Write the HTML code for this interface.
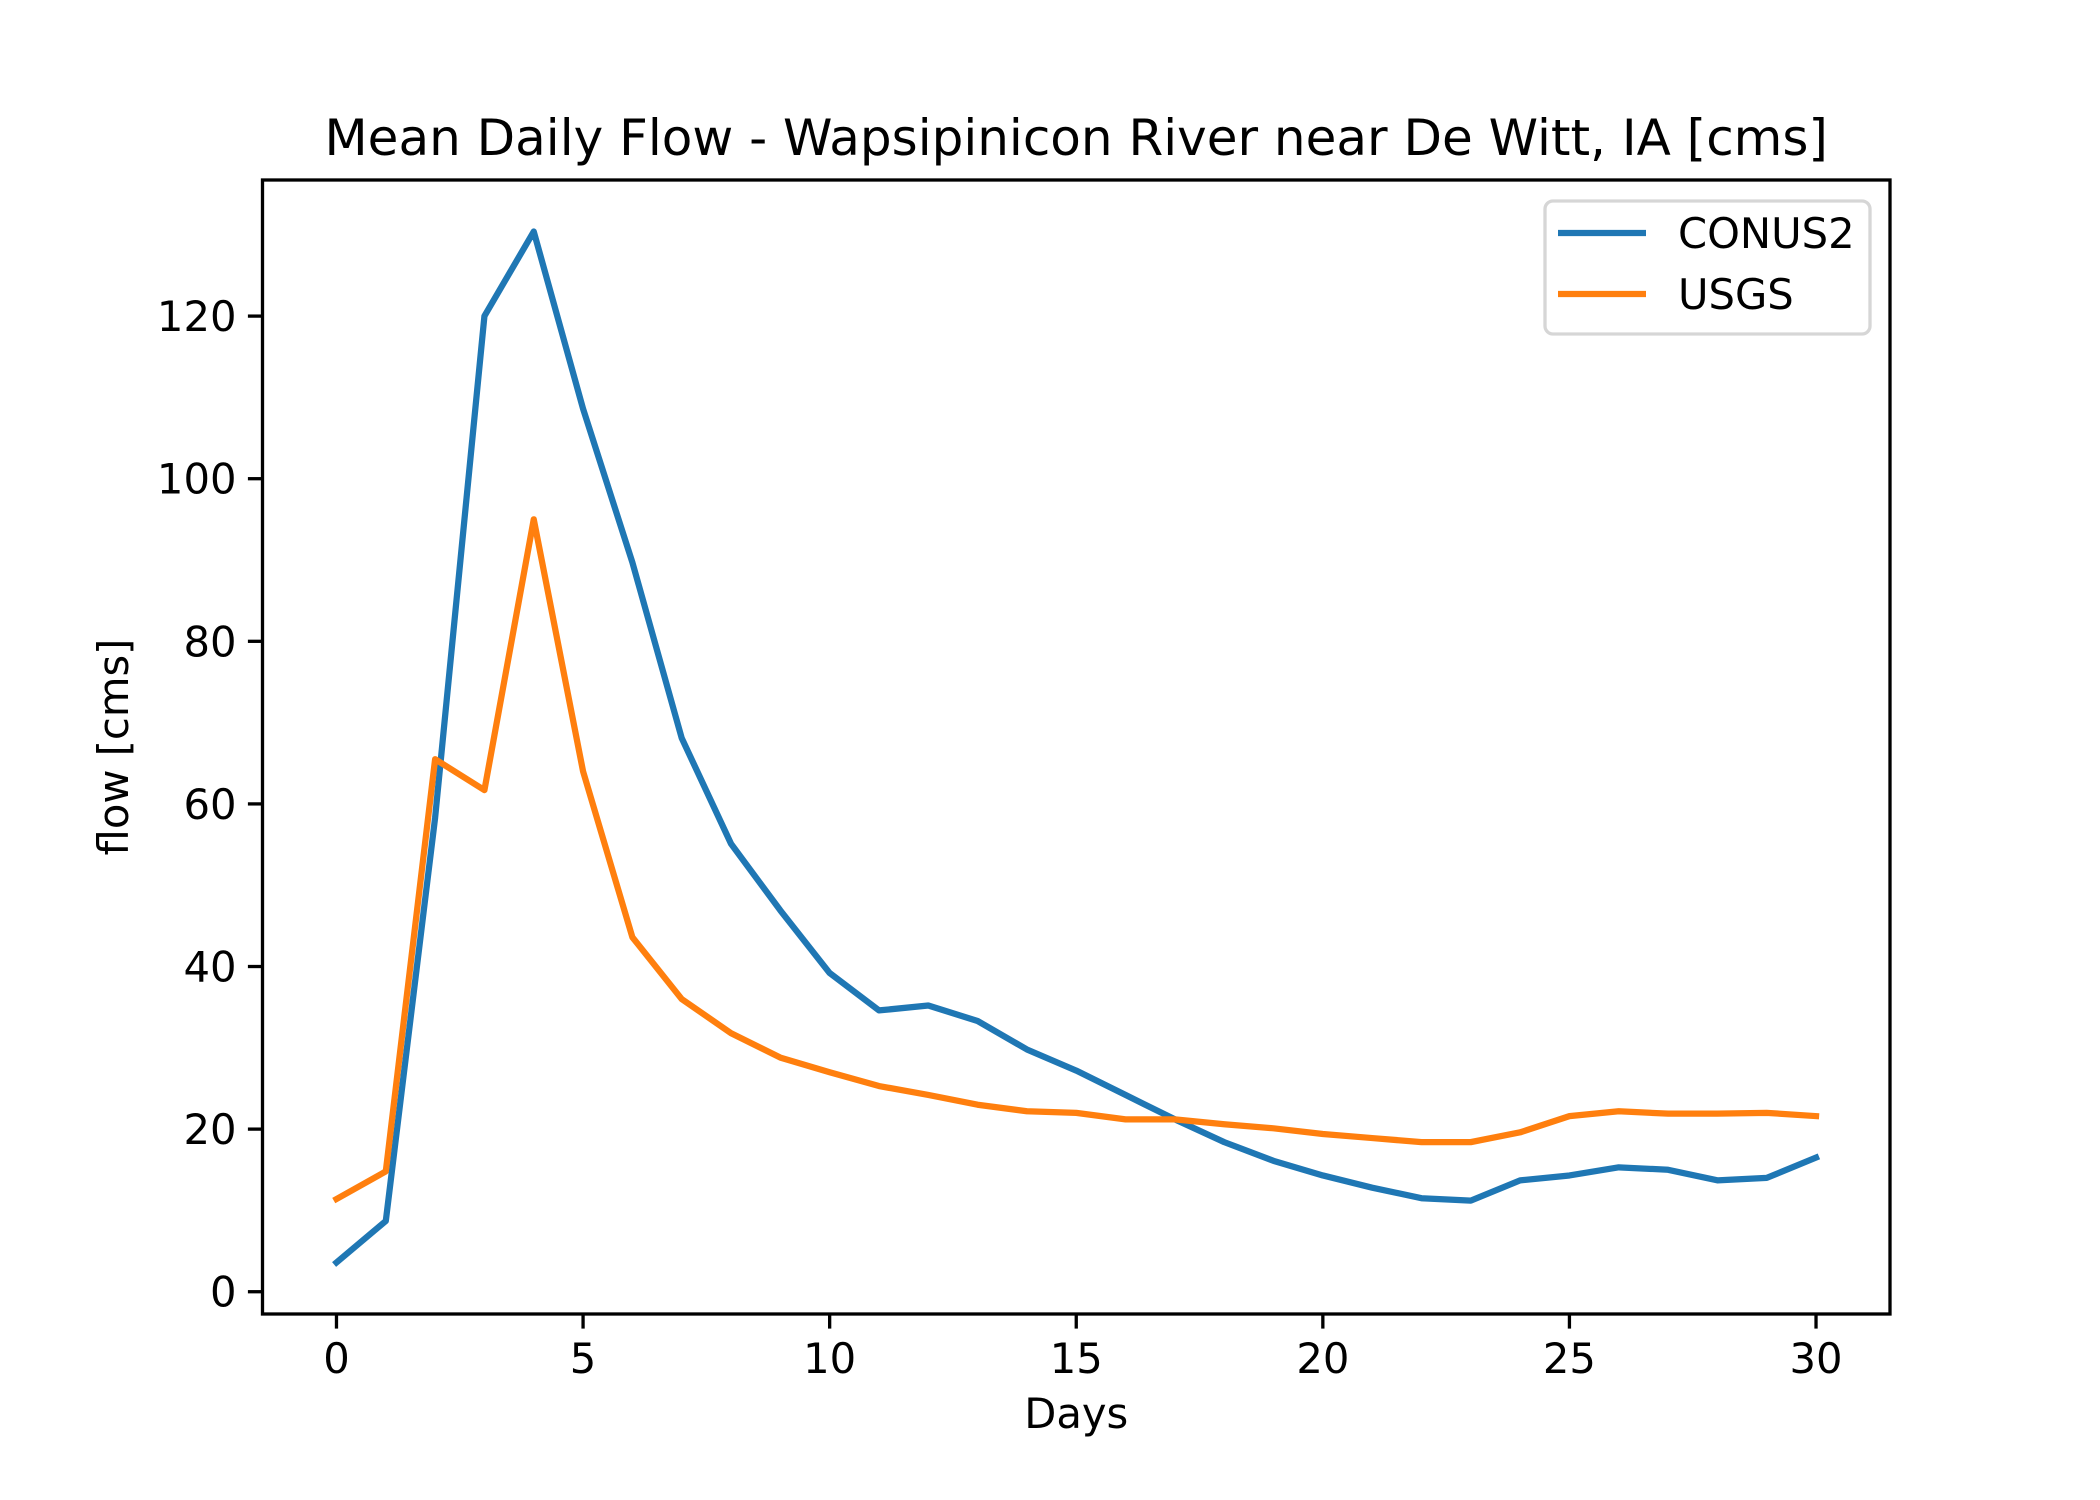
<!DOCTYPE html>
<html><head><meta charset="utf-8"><style>
body{margin:0;background:#fff}
svg{display:block;font-family:"DejaVu Sans","Liberation Sans",sans-serif}
</style></head><body>
<svg id="chart" width="2100" height="1500" viewBox="0 0 2100 1500">
<rect width="2100" height="1500" fill="#fff"/>
<g id="plot"></g>
</svg>
<script>
const days = [0,1,2,3,4,5,6,7,8,9,10,11,12,13,14,15,16,17,18,19,20,21,22,23,24,25,26,27,28,29,30];
const conus2 = [3.6,8.7,58.3,120,130.4,108.6,89.7,68.1,55.1,46.9,39.2,34.6,35.2,33.3,29.8,27.2,24.2,21.2,18.4,16.1,14.3,12.8,11.5,11.2,13.7,14.3,15.3,15.0,13.7,14.0,16.5];
const usgs = [11.4,14.8,65.5,61.7,95,64,43.6,36,31.8,28.8,27,25.3,24.2,23,22.2,22,21.2,21.2,20.6,20.1,19.4,18.9,18.4,18.4,19.6,21.6,22.2,21.9,21.9,22,21.6];
const xTicks = [0,5,10,15,20,25,30];
const yTicks = [0,20,40,60,80,100,120];

const NS='http://www.w3.org/2000/svg';
const L=262.5,R=1890,T=180,B=1314;
const all=conus2.concat(usgs);
const ymn=Math.min(...all),ymx=Math.max(...all),yp=(ymx-ymn)*0.05;
const y0=ymn-yp,y1=ymx+yp;
const xmn=Math.min(...days),xmx=Math.max(...days),xp=(xmx-xmn)*0.05;
const x0=xmn-xp,x1=xmx+xp;
const sx=v=>L+(v-x0)/(x1-x0)*(R-L);
const sy=v=>B-(v-y0)/(y1-y0)*(B-T);
const g=document.getElementById('plot');
function mk(tag,attrs,txt){const e=document.createElementNS(NS,tag);for(const k in attrs)e.setAttribute(k,attrs[k]);if(txt!==undefined)e.textContent=txt;g.appendChild(e);return e;}

xTicks.forEach(v=>{
  const t=mk('line',{x1:sx(v),x2:sx(v),y1:B,y2:B+14.6,stroke:'#000','stroke-width':3.3});
  
  
  const l=mk('text',{x:sx(v),y:B+59,'font-size':41.7,'text-anchor':'middle'},String(v));
  
  
});
yTicks.forEach(v=>{
  const t=mk('line',{x1:L-14.6,x2:L,y1:sy(v),y2:sy(v),stroke:'#000','stroke-width':3.3});
  
  
  const l=mk('text',{x:L-26,y:sy(v)+15,'font-size':41.7,'text-anchor':'end'},String(v));
  
  
});
function line(vals,color,name){
  const p=mk('polyline',{points:days.map((d,i)=>sx(d)+','+sy(vals[i])).join(' '),fill:'none',stroke:color,'stroke-width':6.25,'stroke-linejoin':'round','stroke-linecap':'square'});
  
  
}
line(conus2,'#1f77b4','conus2-line');
line(usgs,'#ff7f0e','usgs-line');
const fr=mk('rect',{x:L,y:T,width:R-L,height:B-T,fill:'none',stroke:'#000','stroke-width':3.3});


const ti=mk('text',{x:(L+R)/2,y:155,'font-size':50,'text-anchor':'middle'},'Mean Daily Flow - Wapsipinicon River near De Witt, IA [cms]');


const xl=mk('text',{x:(L+R)/2,y:1428,'font-size':41.7,'text-anchor':'middle'},'Days');


const yl=mk('text',{x:0,y:0,'font-size':41.7,'text-anchor':'middle',transform:'translate(128,'+((T+B)/2)+') rotate(-90)'},'flow [cms]');


const lg=mk('rect',{x:1545,y:201,width:325,height:133,rx:8,fill:'#fff',stroke:'#d6d6d6','stroke-width':3.3});


[['CONUS2','#1f77b4',233],['USGS','#ff7f0e',294]].forEach(([n,c,y])=>{
  const s=mk('line',{x1:1558,x2:1646,y1:y,y2:y,stroke:c,'stroke-width':6.25});
  
  
  const t=mk('text',{x:1678,y:y+15,'font-size':41.7},n);
  
  
});
</script>
</body></html>
